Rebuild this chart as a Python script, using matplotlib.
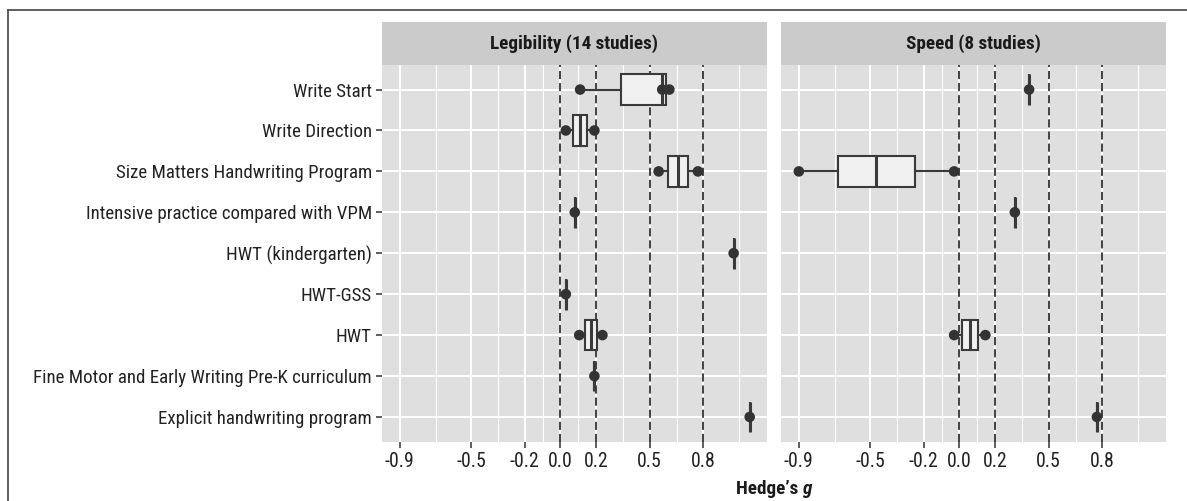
import matplotlib
matplotlib.use("Agg")
import matplotlib.pyplot as plt
from matplotlib.patches import Rectangle
from matplotlib.lines import Line2D
from matplotlib import font_manager

# ---------------- data ----------------
categories = [
    "Write Start",
    "Write Direction",
    "Size Matters Handwriting Program",
    "Intensive practice compared with VPM",
    "HWT (kindergarten)",
    "HWT-GSS",
    "HWT",
    "Fine Motor and Early Writing Pre-K curriculum",
    "Explicit handwriting program",
]
legibility_values = [
    [0.11, 0.57, 0.61],
    [0.03, 0.19],
    [0.55, 0.77],
    [0.08],
    [0.97],
    [0.03],
    [0.105, 0.235],
    [0.19],
    [1.06],
]
speed_values = [
    [0.39],
    [],
    [-0.90, -0.03],
    [0.31],
    [],
    [],
    [-0.03, 0.145],
    [],
    [0.77],
]
panel_titles = ["Legibility (14 studies)", "Speed (8 studies)"]
x_ticks = [-0.9, -0.5, -0.2, 0.0, 0.2, 0.5, 0.8]
x_minor = [-0.7, -0.35, -0.1, 0.1, 0.35, 0.65, 1.0]
x_tick_labels = ["-0.9", "-0.5", "-0.2", "0.0", "0.2", "0.5", "0.8"]
ref_lines = [0.0, 0.2, 0.5, 0.8]
x_label = "Hedge\u2019s "

# ---------------- fonts ----------------
def has_font(name):
    try:
        font_manager.findfont(name, fallback_to_default=False)
        return True
    except Exception:
        return False

FONT, SCALE = "Liberation Sans", 0.85
for cand in ["Roboto Condensed", "Archivo Narrow", "IBM Plex Sans Condensed",
             "Liberation Sans Narrow"]:
    if has_font(cand):
        FONT, SCALE = cand, 1.0
        break
plt.rcParams["font.family"] = [FONT, "DejaVu Sans"]

W, H = 1187, 501
fig = plt.figure(figsize=(W / 100, H / 100), dpi=100)
fig.patch.set_facecolor("white")

def px_rect(x0, y0, x1, y1):
    return [x0 / W, 1 - y1 / H, (x1 - x0) / W, (y1 - y0) / H]

TOP, BOTTOM, STRIP_TOP = 65, 441.5, 22
panels = [(382, 767, panel_titles[0], legibility_values),
          (781, 1166, panel_titles[1], speed_values)]
DARK = "#333333"
FS = 13.6 * SCALE
XFS = 14.2 * SCALE
TFS = 13.8 * SCALE

for k, (x0, x1, title, values) in enumerate(panels):
    ax = fig.add_axes(px_rect(x0, TOP, x1, BOTTOM))
    ax.set_facecolor("#dfdfdf")
    ax.set_xlim(-1.0, 1.157)
    ax.set_ylim(len(categories) + 0.6, 0.4)
    ax.set_xticks(x_ticks)
    ax.set_xticklabels(x_tick_labels)
    ax.set_xticks(x_minor, minor=True)
    rows = list(range(1, len(categories) + 1))
    ax.set_yticks(rows)
    if k == 0:
        ax.set_yticklabels(categories)
        ax.tick_params(axis="y", length=4.3, width=1.1, color=DARK, pad=3,
                       labelsize=FS, labelcolor="#222222")
    else:
        ax.set_yticklabels([])
        ax.tick_params(axis="y", length=0)
    ax.tick_params(axis="x", which="major", length=4.3, width=1.1, color=DARK,
                   pad=3.5, labelsize=XFS, labelcolor="#222222")
    ax.tick_params(which="minor", length=0)
    ax.grid(which="major", color="white", lw=1.4)
    ax.grid(which="minor", axis="x", color="white", lw=0.8)
    ax.set_axisbelow(True)
    for s in ax.spines.values():
        s.set_visible(False)

    for v in ref_lines:
        ax.axvline(v, color=DARK, lw=1.3, ls=(0, (4.5, 2.2)), zorder=2)

    pos = [r for r, v in zip(rows, values) if v]
    data = [v for v in values if v]
    ax.boxplot(data, positions=pos, orientation="horizontal", widths=0.75,
               whis=(0, 100), showcaps=False, showfliers=False,
               patch_artist=True, manage_ticks=False,
               boxprops=dict(facecolor="#f0f0f0", edgecolor="#3a3a3a", lw=1.5),
               medianprops=dict(color="#3a3a3a", lw=2.2),
               whiskerprops=dict(color="#3a3a3a", lw=1.5), zorder=3)
    for r, vals in zip(rows, values):
        if vals:
            ax.scatter(vals, [r] * len(vals), s=58, color=DARK, zorder=4,
                       edgecolors="none")

    fig.add_artist(Rectangle((x0 / W, 1 - TOP / H), (x1 - x0) / W,
                             (TOP - STRIP_TOP) / H, transform=fig.transFigure,
                             facecolor="#cbcbcb", edgecolor="none"))
    fig.text((x0 + x1) / 2 / W, 1 - (TOP + STRIP_TOP) / 2 / H, title,
             ha="center", va="center", fontsize=TFS, fontweight="bold",
             color="#1a1a1a")

# axis title: bold "Hedge's" + bold italic g
t1 = fig.text(774 / W, 1 - 489 / H, x_label + "g", ha="center", va="center",
              fontsize=TFS, fontweight="bold", color="#1a1a1a", alpha=0)
fig.canvas.draw()
bb = t1.get_window_extent()
t2 = fig.text(bb.x0 / W, 1 - 489 / H, x_label, ha="left", va="center",
              fontsize=TFS, fontweight="bold", color="#1a1a1a")
fig.canvas.draw()
bb2 = t2.get_window_extent()
fig.text(bb2.x1 / W, 1 - 489 / H, "g", ha="left", va="center",
         fontsize=TFS, fontweight="bold", fontstyle="italic",
         color="#1a1a1a")

# outer frame (top and left edges)
fig.add_artist(Line2D([8 / W, 1], [1 - 10 / H, 1 - 10 / H],
                      transform=fig.transFigure, color="#444444", lw=1.2))
fig.add_artist(Line2D([8 / W, 8 / W], [0, 1 - 10 / H],
                      transform=fig.transFigure, color="#444444", lw=1.2))

fig.savefig("out.png", dpi=100)
